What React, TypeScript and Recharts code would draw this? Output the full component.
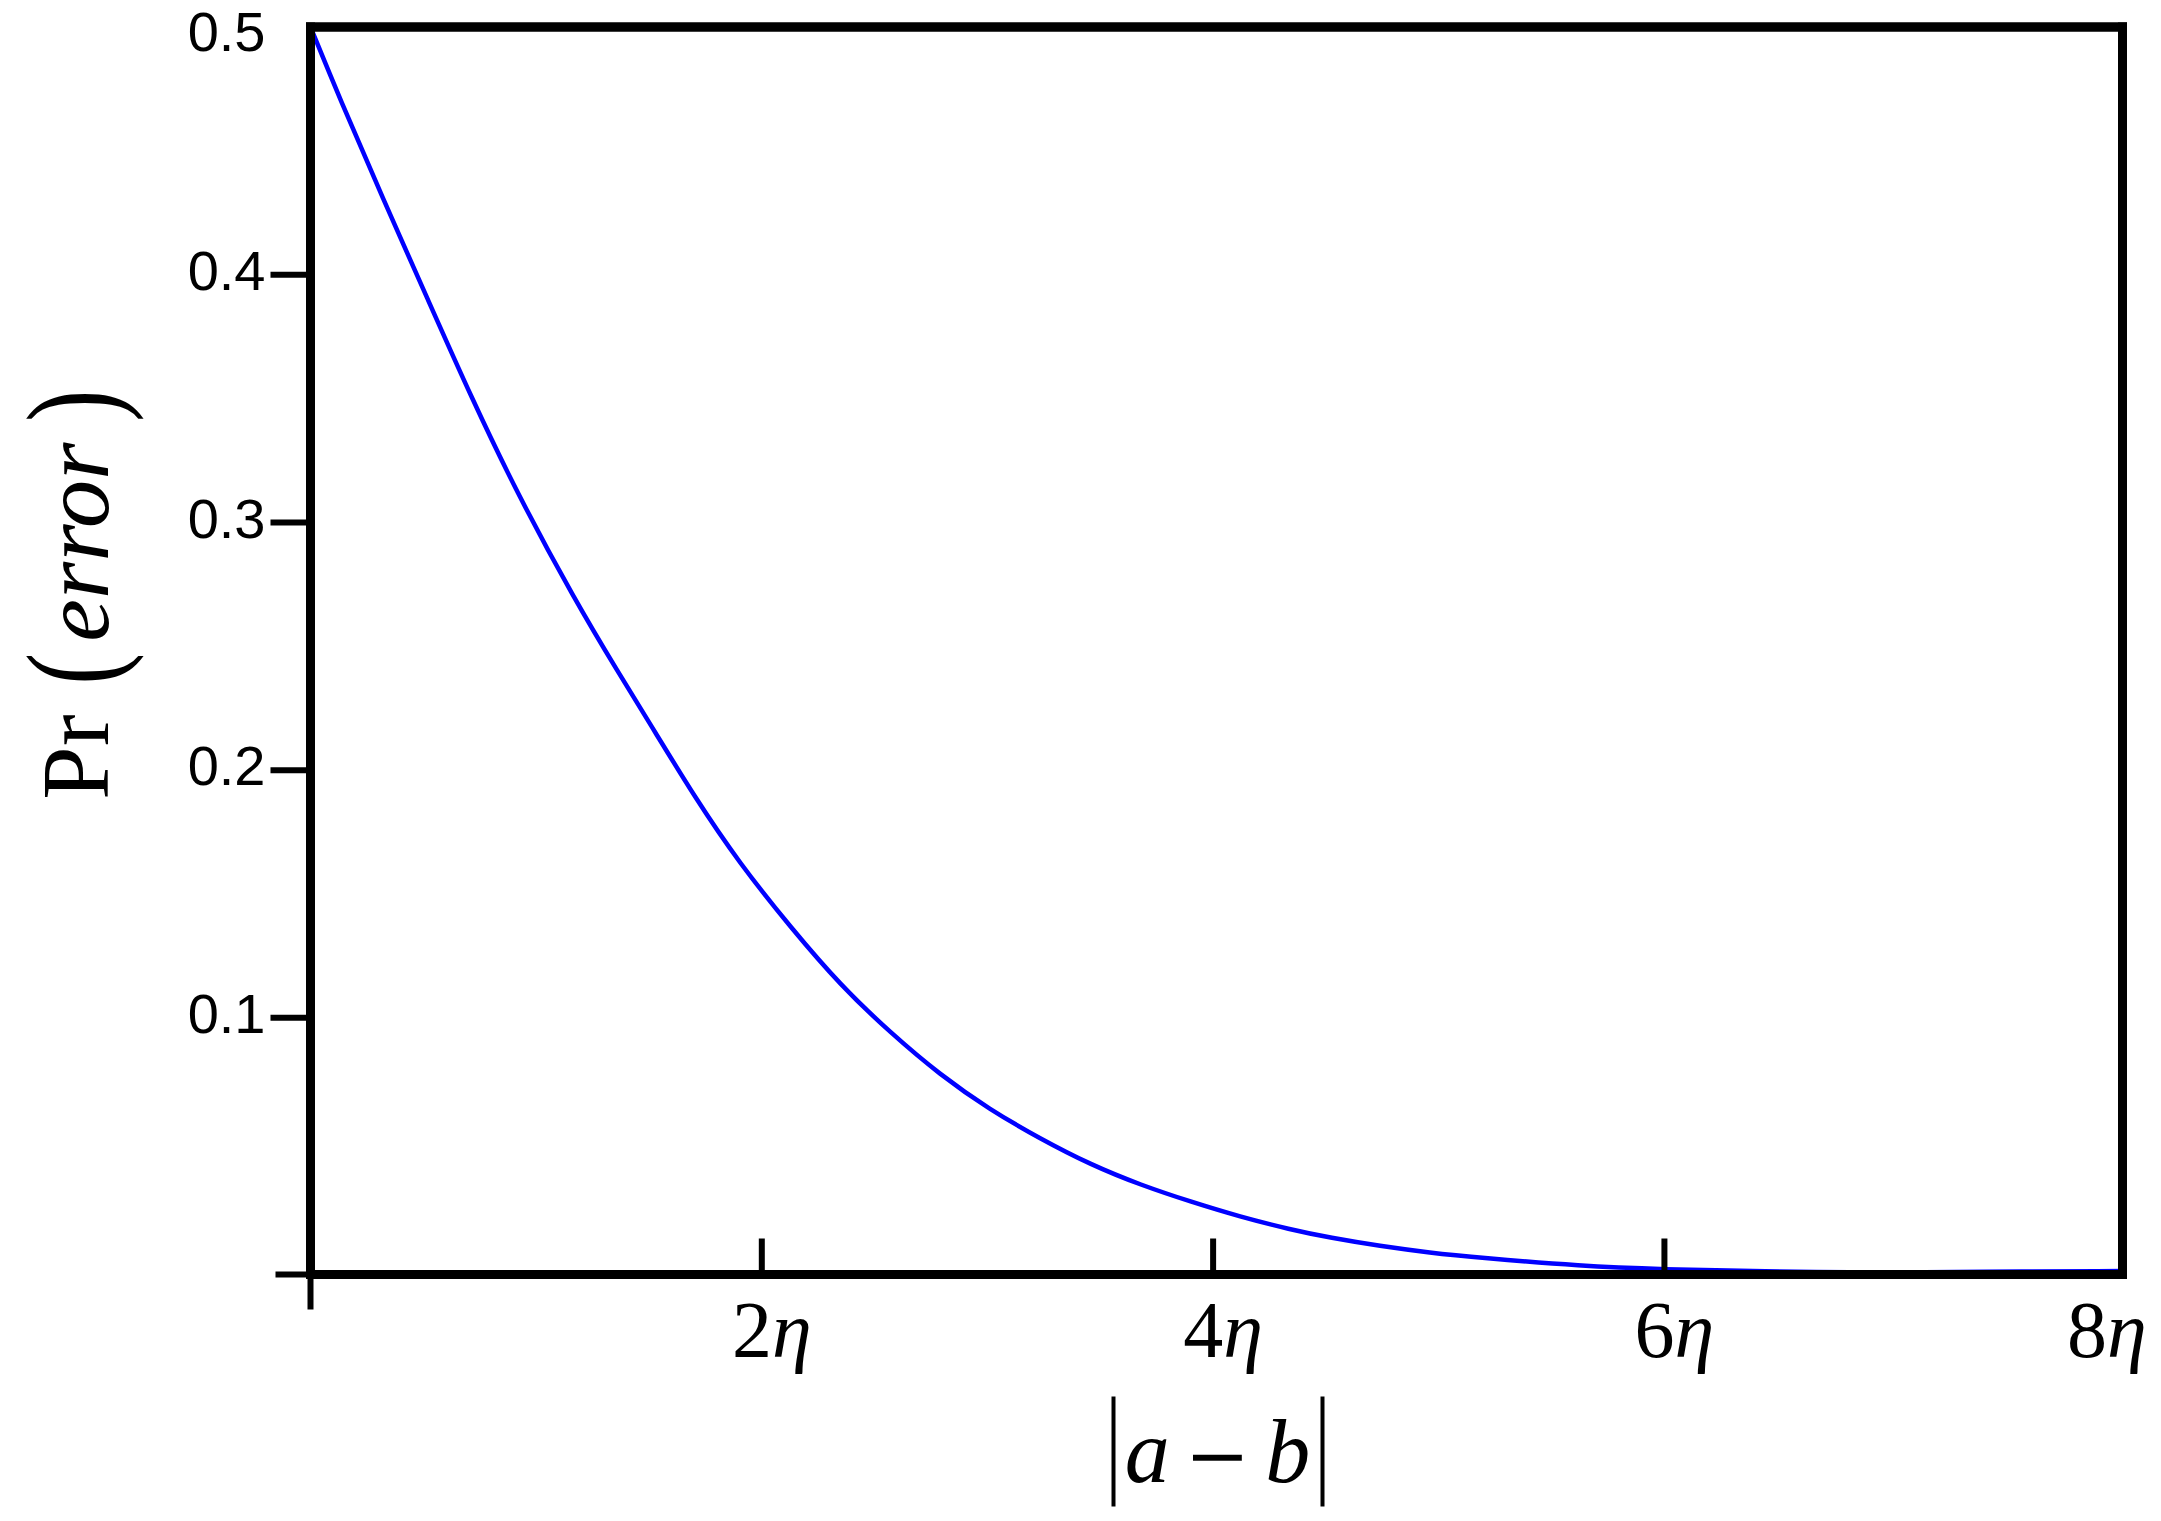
import React from 'react';
import { LineChart, Line, XAxis, YAxis, Label, ReferenceArea } from 'recharts';

// |a - b| in units of eta
const distanceEta = [0, 0.13, 0.32, 0.52, 0.71, 0.92, 1.17, 1.36, 1.53, 1.7, 1.9, 2.13, 2.35, 2.57, 2.79, 3.01, 3.23, 3.46, 3.68, 3.9, 4.12, 4.34, 4.52, 4.74, 4.96, 5.18, 5.63, 6.0, 6.42, 7.0, 7.37, 8.03];
// Pr(error)
const errorProbability = [0.5, 0.471, 0.431, 0.39, 0.351, 0.311, 0.269, 0.24, 0.215, 0.1895, 0.1625, 0.1363, 0.113, 0.094, 0.077, 0.063, 0.0514, 0.0406, 0.0325, 0.0258, 0.0197, 0.0146, 0.0112, 0.0079, 0.0052, 0.0032, -0.0002, -0.0015, -0.0024, -0.0029, -0.0025, -0.0022];

const xTickValues = [0, 2, 4, 6, 8];
const xTickLabels = ['', '2', '4', '6', '8']; // multiples of η
const yTickValues = [-0.0036, 0.1, 0.2, 0.3, 0.4, 0.5];
const yTickLabels = ['', '0.1', '0.2', '0.3', '0.4', '0.5'];
const xDomain: [number, number] = [0, 8.03];
const yDomain: [number, number] = [-0.0036, 0.5];

const data = distanceEta.map((d, i) => ({ d, p: errorProbability[i] }));

const FRAME = { stroke: '#000', strokeWidth: 9, strokeLinecap: 'square' as const };

const XTick = (props: any) => {
  const { x, y, index } = props;
  const v = xTickValues[index];
  const lab = xTickLabels[index];
  const isLast = index === xTickValues.length - 1;
  return (
    <g>
      {v === 0 ? (
        <line x1={x} x2={x} y1={y} y2={y + 35} stroke="#000" strokeWidth={6} />
      ) : !isLast ? (
        <line x1={x} x2={x} y1={y} y2={y - 36} stroke="#000" strokeWidth={6} />
      ) : null}
      {lab ? (
        <text
          x={isLast ? x + 31 : x + 10}
          y={y + 82}
          textAnchor={isLast ? 'end' : 'middle'}
          fontFamily="'Liberation Serif', serif"
          fontSize={80}
          fill="#000"
        >
          <tspan>{lab}</tspan>
          <tspan fontStyle="italic">η</tspan>
        </text>
      ) : null}
    </g>
  );
};

const YTick = (props: any) => {
  const { x, y, index } = props;
  const lab = yTickLabels[index];
  const isTop = index === yTickValues.length - 1;
  const isBottom = index === 0;
  return (
    <g>
      {!isTop ? (
        <line x1={x - (isBottom ? 35 : 40)} x2={x} y1={y} y2={y} stroke="#000" strokeWidth={6} />
      ) : null}
      {lab ? (
        <text
          x={x - 45}
          y={y + (isTop ? 8 : -1)}
          dy="0.29em"
          textAnchor="end"
          fontFamily="'Liberation Sans', Arial, sans-serif"
          fontSize={56}
          fill="#000"
        >
          {lab}
        </text>
      ) : null}
    </g>
  );
};

const XTitle = (props: any) => {
  const vb = props.viewBox || {};
  const cx = vb.x + vb.width / 2;
  const base = vb.y + 207;
  return (
    <g>
      <line x1={cx - 103} x2={cx - 103} y1={base - 85} y2={base + 25} stroke="#000" strokeWidth={4} />
      <line x1={cx + 106} x2={cx + 106} y1={base - 85} y2={base + 25} stroke="#000" strokeWidth={4} />
      <text x={cx + 1} y={base} textAnchor="middle" fontFamily="'Liberation Serif', serif" fontSize={90} fill="#000">
        <tspan fontStyle="italic">a</tspan>
        <tspan dx={15} fontFamily="'DejaVu Serif', serif" fontSize={78}>−</tspan>
        <tspan dx={15} fontStyle="italic">b</tspan>
      </text>
    </g>
  );
};

const YTitle = (props: any) => {
  const vb = props.viewBox || {};
  const bx = vb.x + 108;
  const y0 = vb.y + vb.height / 2 + 149;
  return (
    <g transform={`translate(${bx}, ${y0}) rotate(-90)`} fontFamily="'Liberation Serif', serif" fill="#000">
      <text x={0} y={0} fontSize={96}>Pr</text>
      <text transform="translate(115, 8) scale(1, 1.34)" fontSize={96}>(</text>
      <text x={158} y={0} fontSize={96} fontStyle="italic">error</text>
      <text transform="translate(378, 8) scale(1, 1.34)" fontSize={96}>)</text>
    </g>
  );
};

export default function App() {
  return (
    <div style={{ position: 'absolute', left: 0, top: 0, width: 2161, height: 1521, background: '#fff' }}>
      <LineChart width={2161} height={1521} data={data} margin={{ top: 26, right: 37.5, bottom: 0, left: 0 }}>
        <Line
          type="basis"
          dataKey="p"
          stroke="#0000ff"
          strokeWidth={4.5}
          dot={false}
          activeDot={false}
          isAnimationActive={false}
        />
        <ReferenceArea
          x1={xDomain[0]}
          x2={xDomain[1]}
          y1={yDomain[0]}
          y2={yDomain[1]}
          fill="none"
          fillOpacity={0}
          stroke="#000"
          strokeWidth={9}
          strokeOpacity={1}
          ifOverflow="visible"
        />
        <XAxis
          dataKey="d"
          type="number"
          domain={xDomain}
          ticks={xTickValues}
          interval={0}
          height={246.5}
          tickSize={0}
          tickMargin={0}
          tickLine={false}
          stroke="#000"
          strokeWidth={9}
          axisLine={FRAME}
          tick={<XTick />}
        >
          <Label content={(p: any) => <XTitle {...p} />} />
        </XAxis>
        <YAxis
          type="number"
          domain={yDomain}
          ticks={yTickValues}
          interval={0}
          width={310.5}
          tickSize={0}
          tickMargin={0}
          tickLine={false}
          stroke="#000"
          strokeWidth={9}
          axisLine={FRAME}
          tick={<YTick />}
        >
          <Label content={(p: any) => <YTitle {...p} />} />
        </YAxis>
        <XAxis
          xAxisId="top"
          orientation="top"
          type="number"
          domain={xDomain}
          height={1}
          tick={false}
          tickLine={false}
          stroke="#000"
          strokeWidth={9}
          axisLine={FRAME}
        />
        <YAxis
          yAxisId="right"
          orientation="right"
          type="number"
          domain={yDomain}
          width={1}
          tick={false}
          tickLine={false}
          stroke="#000"
          strokeWidth={9}
          axisLine={FRAME}
        />
      </LineChart>
    </div>
  );
}
